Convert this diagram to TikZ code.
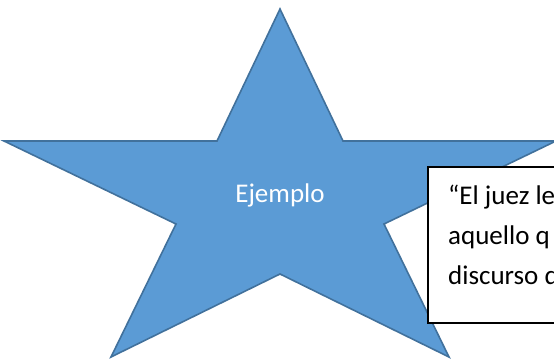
\documentclass[tikz,border=0pt]{standalone}
\usepackage{fontspec}
\setmainfont{Carlito}
\definecolor{starfill}{HTML}{5B9BD5}
\definecolor{staredge}{HTML}{41719C}
\begin{document}
\begin{tikzpicture}[x=1pt,y=-1pt,
  starshape/.style={fill=starfill,draw=staredge,line width=1.6pt,line join=miter},
  boxshape/.style={draw=black,fill=white,line width=1.6pt,inner sep=0pt},
  startext/.style={text=white,font=\fontsize{27}{32}\selectfont,inner sep=0pt,anchor=base},
  quotetext/.style={text=black,font=\fontsize{27}{32}\selectfont,inner sep=0pt,anchor=base west}]
\clip (0,0) rectangle (554,359);
\fill[white] (0,0) rectangle (554,359);
% star
\draw[starshape] (280,9) -- (343,141) -- (556,141) -- (384,224) -- (449,357)
  -- (280,274) -- (111,357) -- (176,224) -- (4,141) -- (217,141) -- cycle;
\node[startext] (ejemplo) at (280,202) {Ejemplo};
% quote box
\node[boxshape,anchor=north west,minimum width=200pt,minimum height=156pt] (box) at (427,166) {};
\node[quotetext] (l1) at (448,204) {“El juez le};
\node[quotetext] (l2) at (448,244) {aquello q};
\node[quotetext] (l3) at (448,284) {discurso d};
\end{tikzpicture}
\end{document}
